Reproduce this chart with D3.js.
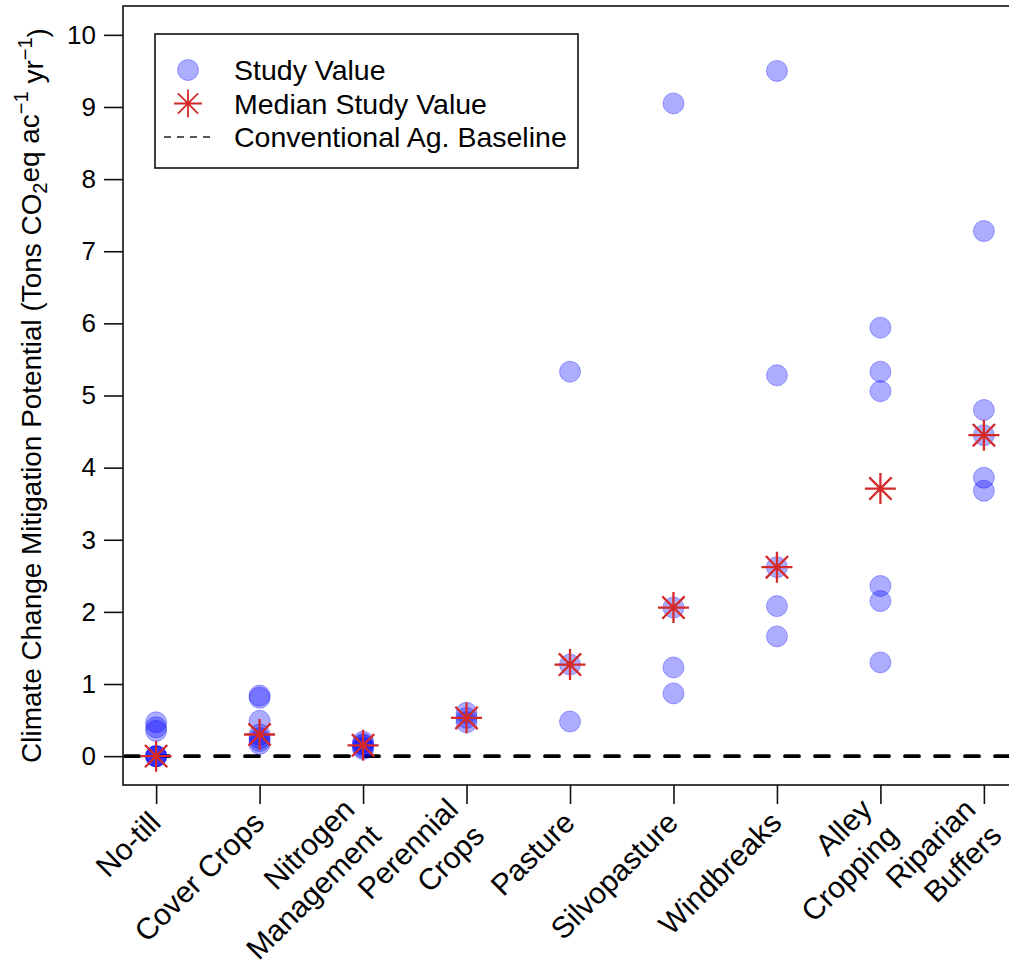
<!DOCTYPE html>
<html>
<head>
<meta charset="utf-8">
<script src="https://cdn.jsdelivr.net/npm/d3@7"></script>
<style>
  body { margin: 0; background: #fff; }
  text { font-family: "Liberation Sans", Arial, Helvetica, sans-serif; fill: #000; }
</style>
</head>
<body>
<svg id="chart" width="1009" height="968"></svg>
<script>
// Practices (line breaks mark two-line axis labels)
const categories = [
  "No-till", "Cover Crops", "Nitrogen\nManagement", "Perennial\nCrops",
  "Pasture", "Silvopasture", "Windbreaks", "Alley\nCropping", "Riparian\nBuffers"
];

// Individual study values (Tons CO2eq per acre per year), one list per practice
const studyValues = [
  [0.47, 0.40, 0.35, 0, 0, 0, 0],
  [0.84, 0.81, 0.49, 0.30, 0.25, 0.21, 0.17],
  [0.20, 0.17, 0.15, 0.12, 0.10],
  [0.60, 0.53, 0.47],
  [5.33, 1.27, 0.48],
  [9.05, 2.06, 1.23, 0.87],
  [9.50, 5.28, 2.62, 2.08, 1.66],
  [5.94, 5.33, 5.06, 2.36, 2.15, 1.30],
  [7.28, 4.80, 4.45, 3.86, 3.68]
];

// Median study value per practice
const medianValues = [0, 0.30, 0.15, 0.53, 1.27, 2.06, 2.62, 3.71, 4.45];

// Conventional agriculture baseline
const baselineValue = 0;

// Y axis ticks
const yTicks = [0, 1, 2, 3, 4, 5, 6, 7, 8, 9, 10];

const legendItems = ["Study Value", "Median Study Value", "Conventional Ag. Baseline"];

const svg = d3.select("#chart");

const x = d3.scaleLinear().domain([0.68, 9.32]).range([123, 1017]);
const y = d3.scaleLinear().domain([-0.4, 10.4]).range([785, 6]);

const pointFill = "rgba(0,0,255,0.32)";
const starColor = "#d42a2a";

function starPath(h) {
  const d = h * 0.72;
  return `M${-h},0L${h},0M0,${-h}L0,${h}M${-d},${-d}L${d},${d}M${-d},${d}L${d},${-d}`;
}

// Baseline
svg.append("line")
  .attr("x1", x(0.68) + 2).attr("x2", 1009)
  .attr("y1", y(baselineValue)).attr("y2", y(baselineValue))
  .attr("stroke", "#000").attr("stroke-width", 3.8)
  .attr("stroke-dasharray", "14,16").attr("stroke-linecap", "round");

// Study points
const pts = [];
studyValues.forEach((vals, i) => vals.forEach(v => pts.push({ i: i + 1, v })));
svg.append("g").selectAll("circle").data(pts).join("circle")
  .attr("cx", d => x(d.i)).attr("cy", d => y(d.v)).attr("r", 10.5)
  .attr("fill", pointFill).attr("stroke", pointFill).attr("stroke-width", 1);

// Medians
svg.append("g").selectAll("path").data(medianValues).join("path")
  .attr("transform", (d, i) => `translate(${x(i + 1)},${y(d)})`)
  .attr("d", starPath(15.5))
  .attr("stroke", starColor).attr("stroke-width", 2.3).attr("fill", "none");

// Plot box
svg.append("rect")
  .attr("x", x(0.68)).attr("y", y(10.4))
  .attr("width", x(9.32) - x(0.68)).attr("height", y(-0.4) - y(10.4))
  .attr("fill", "none").attr("stroke", "#111").attr("stroke-width", 1.6);

// Y axis
const yAxis = svg.append("g")
  .attr("transform", `translate(${x(0.68)},0)`)
  .call(d3.axisLeft(y).tickValues(yTicks).tickSize(19).tickPadding(8).tickFormat(d3.format("d")));
yAxis.select(".domain").remove();
yAxis.selectAll(".tick line").attr("stroke", "#111").attr("stroke-width", 1.6);
yAxis.selectAll(".tick text").attr("font-size", 26).attr("fill", "#000")
  .style("font-family", '"Liberation Sans", Arial, sans-serif');

// X axis ticks
const xAxis = svg.append("g")
  .attr("transform", `translate(0,${y(-0.4)})`)
  .call(d3.axisBottom(x).tickValues(d3.range(1, categories.length + 1)).tickSize(19).tickFormat(""));
xAxis.select(".domain").remove();
xAxis.selectAll(".tick line").attr("stroke", "#111").attr("stroke-width", 1.6);

// Rotated category labels, right-justified lines centred on the anchor
const lineH = 37;
categories.forEach((c, i) => {
  const lines = c.split("\n");
  const g = svg.append("g")
    .attr("transform", `translate(${x(i + 1) - 1},${y(-0.4) + 32}) rotate(-45)`);
  lines.forEach((ln, k) => {
    g.append("text")
      .attr("x", 0)
      .attr("y", (k - (lines.length - 1) / 2) * lineH)
      .attr("dy", "0.35em")
      .attr("text-anchor", "end")
      .attr("font-size", 30)
      .text(ln);
  });
});

// Y axis title
const yt = svg.append("text")
  .attr("transform", `translate(41,${(y(-0.4) + y(10.4)) / 2}) rotate(-90)`)
  .attr("text-anchor", "middle")
  .attr("font-size", 22);
yt.append("tspan").text("Climate Change Mitigation Potential (Tons CO");
yt.append("tspan").attr("font-size", "0.72em").attr("dy", "0.3em").text("2");
yt.append("tspan").attr("dy", "-0.3em").text("eq ac");
yt.append("tspan").attr("font-size", "0.72em").attr("dy", "-0.55em").text("\u22121");
yt.append("tspan").attr("dy", "0.55em").text(" yr");
yt.append("tspan").attr("font-size", "0.72em").attr("dy", "-0.55em").text("\u22121");
yt.append("tspan").attr("dy", "0.55em").text(")");
// fit the title to the plot height
const targetLen = 735;
const len = yt.node().getComputedTextLength();
yt.attr("font-size", 22 * targetLen / len);

// Legend
const lg = svg.append("g");
lg.append("rect").attr("x", 155).attr("y", 34).attr("width", 423).attr("height", 134)
  .attr("fill", "#fff").attr("stroke", "#111").attr("stroke-width", 1.6);
const rowY = [70, 103.5, 137];
lg.append("circle").attr("cx", 188).attr("cy", rowY[0]).attr("r", 10.5)
  .attr("fill", pointFill).attr("stroke", pointFill).attr("stroke-width", 1);
lg.append("path").attr("transform", `translate(188,${rowY[1]})`).attr("d", starPath(14))
  .attr("stroke", starColor).attr("stroke-width", 1.8).attr("fill", "none");
lg.append("line").attr("x1", 164).attr("x2", 214).attr("y1", rowY[2]).attr("y2", rowY[2])
  .attr("stroke", "#222").attr("stroke-width", 1.6).attr("stroke-dasharray", "7,6");
legendItems.forEach((t, k) => {
  lg.append("text").attr("x", 234).attr("y", rowY[k]).attr("dy", "0.36em")
    .attr("font-size", 28.5).text(t);
});
</script>
</body>
</html>
